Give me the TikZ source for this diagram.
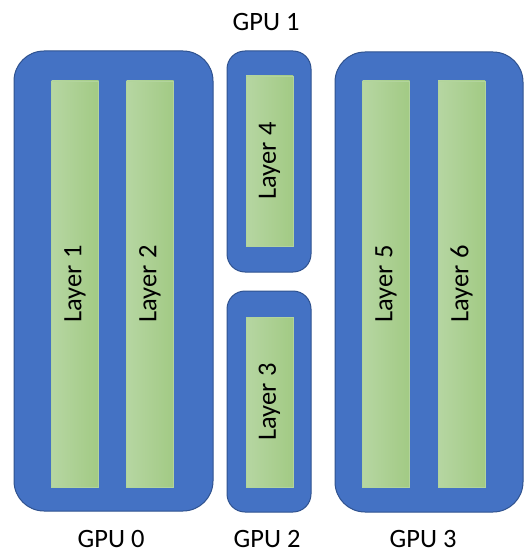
\documentclass[tikz,border=0pt]{standalone}
\usepackage{fontspec}
\setmainfont{Carlito}
\definecolor{gpublue}{HTML}{4472C4}
\definecolor{gpuedge}{HTML}{2F528F}
\definecolor{glight}{HTML}{B6D6A2}
\definecolor{gdark}{HTML}{A2CA84}
\begin{document}
\begin{tikzpicture}[x=1pt,y=-1pt,
  gpu/.style={draw=gpuedge, line width=1pt, fill=gpublue, rounded corners=#1, inner sep=0pt},
  gpu/.default=30pt,
  layerbox/.style={rotate=90, draw=glight!80!gdark, line width=0.4pt, left color=glight, right color=gdark,
    minimum height=47pt, inner sep=0pt, font=\fontsize{26.5}{30}\selectfont},
  label/.style={font=\fontsize{26.5}{30}\selectfont, inner sep=0pt, text depth=0pt, anchor=base}]
\useasboundingbox (0,0) rectangle (524,553);
% GPU boxes
\node[gpu, minimum width=199pt, minimum height=460pt] (g0) at (113.5,281) {};
\node[gpu=18pt, minimum width=84pt, minimum height=221pt] (g1) at (269,161.5) {};
\node[gpu=18pt, minimum width=84pt, minimum height=221pt] (g2) at (269,401.5) {};
\node[gpu, minimum width=188pt, minimum height=460pt] (g3) at (429,282) {};
% Layers
\node[layerbox, minimum width=406pt] (l1) at (75,284) {Layer 1};
\node[layerbox, minimum width=406pt] (l2) at (150,284) {Layer 2};
\node[layerbox, minimum width=170pt] (l4) at (269.5,161) {Layer 4};
\node[layerbox, minimum width=170pt] (l3) at (269.5,402) {Layer 3};
\node[layerbox, minimum width=406pt] (l5) at (386,284) {Layer 5};
\node[layerbox, minimum width=406pt] (l6) at (461.5,284) {Layer 6};
% Labels
\node[label] (t1) at (266,31) {GPU 1};
\node[label] (t0) at (111,547) {GPU 0};
\node[label] (t2) at (267,547) {GPU 2};
\node[label] (t3) at (423,547) {GPU 3};
\end{tikzpicture}
\end{document}
